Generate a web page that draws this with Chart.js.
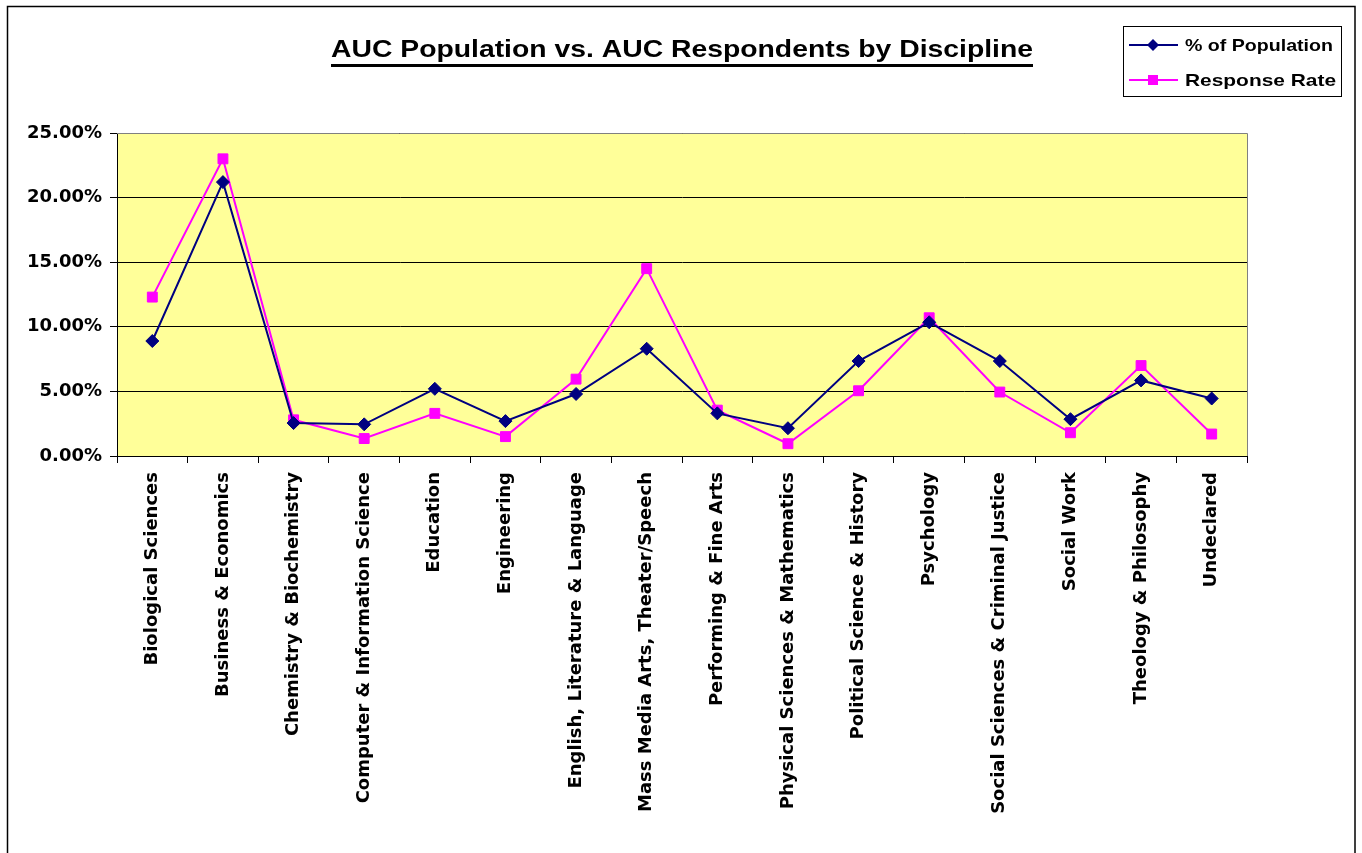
<!DOCTYPE html>
<html>
<head>
<meta charset="utf-8">
<script src="https://cdn.jsdelivr.net/npm/chart.js@4"></script>
<style>
  html, body { margin: 0; padding: 0; background: #fff; }
  canvas { display: block; }
</style>
</head>
<body>
<canvas id="aucChart" width="1362" height="853"></canvas>
<script>
var chartTitle = 'AUC Population vs. AUC Respondents by Discipline';

var disciplines = [
    'Biological Sciences', 'Business & Economics', 'Chemistry & Biochemistry',
    'Computer & Information Science', 'Education', 'Engineering',
    'English, Literature & Language', 'Mass Media Arts, Theater/Speech',
    'Performing & Fine Arts', 'Physical Sciences & Mathematics',
    'Political Science & History', 'Psychology', 'Social Sciences & Criminal Justice',
    'Social Work', 'Theology & Philosophy', 'Undeclared'
];

var seriesNames = ['% of Population', 'Response Rate'];

var populationPct = [8.9, 21.2, 2.55, 2.45, 5.2, 2.7, 4.8, 8.3, 3.3, 2.15, 7.35, 10.35, 7.35, 2.85, 5.85, 4.45];
var responsePct   = [12.3, 23.0, 2.8, 1.35, 3.3, 1.5, 5.95, 14.5, 3.55, 0.95, 5.05, 10.7, 4.95, 1.8, 7.0, 1.7];

var yTicks = [0, 5, 10, 15, 20, 25];

var tickFont = { family: 'DejaVu Sans', weight: 'bold', size: 18 };

// draws text squeezed/stretched to a target width (Excel fonts are wide)
var fitText = function(ctx, text, x, y, width) {
    var w = ctx.measureText(text).width;
    ctx.save();
    ctx.translate(x, y);
    ctx.scale(width / w, 1);
    ctx.fillText(text, 0, 0);
    ctx.restore();
};

var excelLook = {
    id: 'excelLook',
    beforeDraw: function(chart) {
        var ctx = chart.ctx;
        var a = chart.chartArea;
        ctx.save();
        ctx.fillStyle = '#ffffff';
        ctx.fillRect(0, 0, chart.width, chart.height);
        ctx.fillStyle = '#FFFF99';
        ctx.fillRect(a.left, a.top, a.right - a.left, a.bottom - a.top);
        ctx.restore();
    },
    beforeDatasetsDraw: function(chart) {
        var ctx = chart.ctx;
        var a = chart.chartArea;
        ctx.save();
        ctx.strokeStyle = '#808080';
        ctx.lineWidth = 1;
        ctx.beginPath();
        ctx.moveTo(a.left, a.top + 0.5);
        ctx.lineTo(a.right + 0.5, a.top + 0.5);
        ctx.lineTo(a.right + 0.5, a.bottom);
        ctx.stroke();
        ctx.restore();
    },
    afterDraw: function(chart) {
        var ctx = chart.ctx;
        ctx.save();

        // outer chart border
        ctx.strokeStyle = '#000';
        ctx.lineWidth = 1.5;
        ctx.strokeRect(7.5, 6.5, 1347.5, 900);

        // title with underline
        ctx.fillStyle = '#000';
        ctx.font = 'bold 24px "Liberation Sans", Arial, sans-serif';
        ctx.textBaseline = 'alphabetic';
        ctx.textAlign = 'left';
        var titleLeft = 331, titleWidth = 702;
        fitText(ctx, chartTitle, titleLeft, 57, titleWidth);
        ctx.fillRect(titleLeft, 64, titleWidth, 3);

        // legend box
        ctx.lineWidth = 1;
        ctx.strokeStyle = '#000';
        ctx.strokeRect(1123.5, 26.5, 218, 70);
        ctx.font = 'bold 17px "Liberation Sans", Arial, sans-serif';
        ctx.textBaseline = 'middle';
        var rows = [45, 80];
        var textWidths = [148, 151];
        chart.data.datasets.forEach(function(ds, i) {
            var y = rows[i];
            ctx.strokeStyle = ds.borderColor;
            ctx.lineWidth = 2;
            ctx.beginPath();
            ctx.moveTo(1129, y);
            ctx.lineTo(1178, y);
            ctx.stroke();
            ctx.fillStyle = ds.pointBackgroundColor;
            ctx.beginPath();
            if (ds.pointStyle === 'rectRot') {
                ctx.moveTo(1153, y - 6);
                ctx.lineTo(1159, y);
                ctx.lineTo(1153, y + 6);
                ctx.lineTo(1147, y);
                ctx.closePath();
            } else {
                ctx.rect(1148, y - 5, 10, 10);
            }
            ctx.fill();
            ctx.fillStyle = '#000';
            fitText(ctx, ds.label, 1185, y + 1, textWidths[i]);
        });
        ctx.restore();
    }
};

var ctxL = document.getElementById('aucChart').getContext('2d');
var aucChart = new Chart(ctxL, {
    type: 'line',
    data: {
        labels: disciplines,
        datasets: [
            {
                label: seriesNames[0],
                data: populationPct,
                borderColor: '#000080',
                backgroundColor: '#000080',
                pointBackgroundColor: '#000080',
                pointBorderColor: '#000080',
                pointStyle: 'rectRot',
                pointRadius: 6.5,
                pointBorderWidth: 1,
                borderWidth: 2,
                tension: 0,
                fill: false
            },
            {
                label: seriesNames[1],
                data: responsePct,
                borderColor: '#FF00FF',
                backgroundColor: '#FF00FF',
                pointBackgroundColor: '#FF00FF',
                pointBorderColor: '#FF00FF',
                pointStyle: 'rect',
                pointRadius: 7,
                pointBorderWidth: 1,
                borderWidth: 2,
                tension: 0,
                fill: false
            }
        ]
    },
    options: {
        responsive: false,
        animation: false,
        layout: { padding: { top: 133, right: 115, left: 0, bottom: 0 } },
        plugins: {
            legend: { display: false },
            title: { display: false },
            tooltip: { enabled: false }
        },
        scales: {
            x: {
                type: 'category',
                offset: true,
                afterFit: function(scale) { scale.height = 397; },
                grid: {
                    offset: true,
                    drawOnChartArea: false,
                    drawTicks: true,
                    tickLength: 7,
                    color: '#000'
                },
                border: { display: true, color: '#000', width: 1 },
                ticks: {
                    autoSkip: false,
                    minRotation: 90,
                    maxRotation: 90,
                    padding: 9,
                    color: '#000',
                    font: tickFont
                }
            },
            y: {
                min: yTicks[0],
                max: yTicks[yTicks.length - 1],
                afterFit: function(scale) { scale.width = 117; },
                afterBuildTicks: function(scale) {
                    scale.ticks = yTicks.map(function(v) { return { value: v }; });
                },
                grid: {
                    color: '#000',
                    lineWidth: 1,
                    drawTicks: true,
                    tickLength: 7
                },
                border: { display: true, color: '#000', width: 1 },
                ticks: {
                    padding: 8,
                    color: '#000',
                    font: tickFont,
                    callback: function(v) { return v.toFixed(2) + '%'; }
                }
            }
        }
    },
    plugins: [excelLook]
});
</script>
</body>
</html>
